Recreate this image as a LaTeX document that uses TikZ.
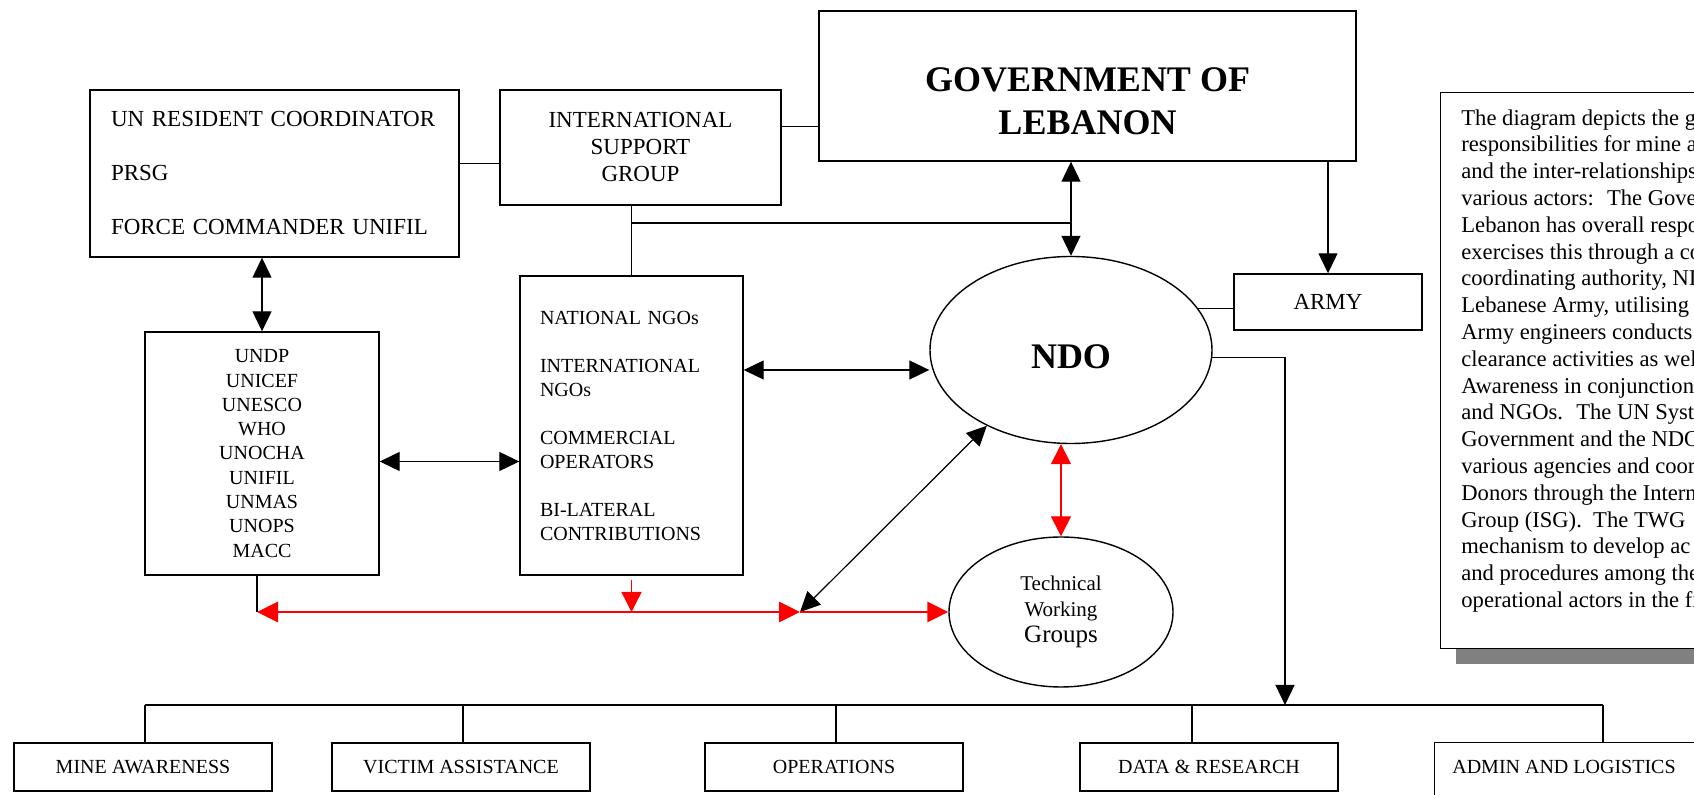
\documentclass[tikz,border=0pt]{standalone}
\usepackage{fontspec}
\setmainfont{Liberation Serif}
\usetikzlibrary{arrows.meta}
\usetikzlibrary{shapes.geometric}
\usetikzlibrary{shadows}
\newcommand{\fsize}[2]{\fontsize{#1}{#2}\selectfont}

\begin{document}
\begin{tikzpicture}[x=0.5pt, y=-0.5pt, >={Triangle[length=10pt, width=9.5pt]}]

    \tikzstyle{box}       = [draw, line width=0.7pt, rectangle, inner sep=0pt, fill=white]
    \tikzstyle{oval}      = [draw, line width=0.7pt, ellipse, inner sep=0pt]
    \tikzstyle{boxtext}   = [inner sep=0pt, font=\fsize{10}{12}]
    \tikzstyle{unit}      = [box, minimum width=129pt, minimum height=24pt, font=\fsize{10}{12}]
    \tikzstyle{plain-link}= [line width=0.6pt]
    \tikzstyle{two-way}   = [line width=0.6pt, <->]
    \tikzstyle{one-way}   = [line width=0.6pt, ->]
    \tikzstyle{bus}       = [line width=1pt]
    \tikzstyle{red-link}  = [red, line width=1.4pt, >={Triangle[length=10.5pt, width=10pt]}]
    \tikzstyle{red-thin}  = [red, line width=0.7pt, >={Triangle[length=10pt, width=10pt]}]

    \useasboundingbox (0,0) rectangle (1694,795);
    \clip (0,0) rectangle (1694,795);

    %
    % Top row
    %
    \node[box, minimum width=184.5pt, minimum height=83.5pt, text width=163.5pt, align=left,
          font=\fsize{11.5}{27}] (un) at (274.5,173.5)
        {UN RESIDENT COORDINATOR\\PRSG\\FORCE COMMANDER UNIFIL};
    \node[box, minimum width=140.5pt, minimum height=57.5pt, align=center,
          font=\fsize{11.5}{13.5}] (isg) at (640.5,147.5) {INTERNATIONAL\\SUPPORT\\GROUP};
    \node[box, minimum width=268.5pt, minimum height=75pt] (gov) at (1087.5,86) {};
    \node[boxtext, align=center, font=\fsize{18}{21.5}\bfseries] (gov-text) at (1087.5,101)
        {GOVERNMENT OF\\LEBANON};

    %
    % Middle row
    %
    \node[box, minimum width=117pt, minimum height=121.5pt, align=center,
          font=\fsize{10}{12.15}] (undp) at (262,453.5)
        {UNDP\\UNICEF\\UNESCO\\WHO\\UNOCHA\\UNIFIL\\UNMAS\\UNOPS\\MACC};
    \node[box, minimum width=111.5pt, minimum height=149.5pt, text width=91.5pt, align=left,
          font=\fsize{10}{12}] (ngo) at (631.5,425.5)
        {NATIONAL NGOs\\[12pt]INTERNATIONAL\\NGOs\\[12pt]COMMERCIAL\\OPERATORS\\[12pt]BI-LATERAL\\CONTRIBUTIONS};
    \node[oval, minimum width=141pt, minimum height=93.5pt, text height=19pt, text depth=0pt,
          font=\fsize{18}{21}\bfseries] (ndo) at (1071,350) {NDO};
    \node[box, minimum width=94pt, minimum height=28pt, font=\fsize{11.5}{13}] (army) at (1328,302) {ARMY};
    \node[oval, minimum width=112pt, minimum height=75pt, align=center, font=\fsize{10.5}{13}] (twg) at (1061,612)
        {Technical\\Working\\{\fsize{12.5}{14}Groups}};

    %
    % Note
    %
    \node[box, anchor=north west, minimum width=160pt, minimum height=278pt,
          drop shadow={shadow xshift=7.5pt, shadow yshift=-7.5pt, fill=black!50, opacity=1}] (note) at (1440,92) {};
    \node[boxtext, anchor=north west, align=left, font=\fsize{11.3}{13.4}] (note-text) at (1461,109) {%
        The diagram depicts the general\\
        responsibilities for mine action\\
        and the inter-relationships\\
        various actors:~ The Government\\
        Lebanon has overall responsibility\\
        exercises this through a co\\
        coordinating authority, NDO\\
        Lebanese Army, utilising\\
        Army engineers conducts\\
        clearance activities as well\\
        Awareness in conjunction\\
        and NGOs.~ The UN System\\
        Government and the NDO\\
        various agencies and coordinates\\
        Donors through the International\\
        Group (ISG).~ The TWG\\
        mechanism to develop ac\\
        and procedures among the\\
        operational actors in the field};

    %
    % Departments
    %
    \node[unit] (mine)   at (143,767)  {MINE AWARENESS};
    \node[unit] (victim) at (461,767)  {VICTIM ASSISTANCE};
    \node[unit] (ops)    at (834,767)  {OPERATIONS};
    \node[unit] (data)   at (1209,767) {DATA \& RESEARCH};
    \node[unit, draw=none, fill=none] (admin) at (1564,767) {ADMIN AND LOGISTICS};
    \draw[line width=0.7pt] (admin.north east) -- (admin.north west) -- ++(0,100);

    \coordinate (isg-tee)   at (632,223);
    \coordinate (ndo-drop)  at (1285,705);
    \coordinate (bus-left)  at (145,705);
    \coordinate (bus-right) at (1603,705);
    \coordinate (red-left)  at (257,612);
    \coordinate (red-mid)   at (800,612);

    %
    % Connectors
    %
    \draw[plain-link] ([yshift=-8pt]isg.west) -- ([yshift=-8pt]isg.west -| un.east);
    \draw[plain-link] ([yshift=10.5pt]isg.east) -- ([yshift=10.5pt]isg.east -| gov.west);
    \draw[plain-link] (ngo.north) -- (ngo.north |- isg.south);
    \draw[plain-link] (isg-tee) -- (isg-tee -| ndo.north);
    \draw[two-way] (gov.south -| ndo.north) -- (ndo.north);
    \draw[one-way] (gov.south -| army.north) -- (army.north);
    \draw[plain-link] (ndo.18) -- (ndo.18 -| army.west);
    \draw[one-way] (ndo.-3) -| (ndo-drop);

    \draw[two-way] (un.south -| undp.north) -- (undp.north);
    \draw[two-way] ([yshift=-4pt]undp.east) -- ([yshift=-4pt]undp.east -| ngo.west);
    \draw[two-way] ([yshift=-10pt]ndo.west) -- ([yshift=-10pt]ndo.west -| ngo.east);
    \draw[two-way] (red-mid) -- (ndo.222);

    \draw[line width=1.1pt] (undp.south -| red-left) -- (red-left);
    \draw[red-link, <->] (red-left) -- (red-mid);
    \draw[red-link, ->] (red-mid) -- (twg.west);
    \draw[red-thin, ->, shorten <=2pt] (ngo.south) -- (ngo.south |- red-mid);
    \draw[red-thin, <->] (twg.north |- ndo.south) -- (twg.north);

    % Bus to departments
    \draw[bus] (bus-left) -- (bus-right);
    \foreach \x/\dept in {145/mine, 463/victim, 836/ops, 1192/data, 1603/admin}
        \draw[plain-link] (\x,705) -- (\x,705 |- \dept.north);
\end{tikzpicture}
\end{document}
